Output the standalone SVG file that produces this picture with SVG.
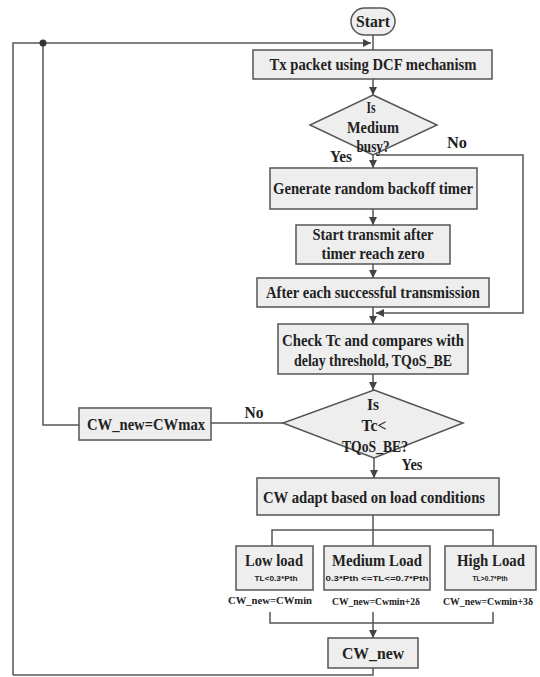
<svg xmlns="http://www.w3.org/2000/svg" width="540" height="677" viewBox="0 0 540 677">
<style>
.box{fill:#eeeeee;stroke:#555;stroke-width:1.5}
.ln{fill:none;stroke:#555;stroke-width:1.5}
.t{font-family:"Liberation Serif","Times New Roman",serif;font-size:16px;font-weight:bold;fill:#222;text-anchor:middle}
.s{font-family:"Liberation Sans",Arial,sans-serif;font-size:8px;font-weight:bold;fill:#222;text-anchor:middle}
.b{font-size:17px}
.l{font-size:11px}
</style>
<defs>
<marker id="ah" markerWidth="8" markerHeight="8" refX="8" refY="4" orient="auto" markerUnits="userSpaceOnUse">
<path d="M0,0 L8,4 L0,8 z" fill="#444"/>
</marker>
</defs>
<rect width="540" height="677" fill="#fff"/>
<g id="connectors">
<path class="ln" d="M13,675 L13,43 L371,43" marker-end="url(#ah)"/>
<path class="ln" d="M79,425 L43,425 L43,43"/>
<circle cx="43" cy="43" r="3.5" fill="#333"/>
<path class="ln" d="M373,35 L373,50"/>
<path class="ln" d="M373,79 L373,95" marker-end="url(#ah)"/>
<path class="ln" d="M373,155 L373,168" marker-end="url(#ah)"/>
<path class="ln" d="M376,155 L523,155 L523,313 L376,313" marker-end="url(#ah)"/>
<path class="ln" d="M373,209 L373,225" marker-end="url(#ah)"/>
<path class="ln" d="M373,264 L373,278" marker-end="url(#ah)"/>
<path class="ln" d="M373,307 L373,324" marker-end="url(#ah)"/>
<path class="ln" d="M373,374 L373,390" marker-end="url(#ah)"/>
<path class="ln" d="M283,423 L211,423"/>
<path class="ln" d="M374,458 L374,478" marker-end="url(#ah)"/>
<path class="ln" d="M373,515 L373,546 M272,546 L272,530 L493,530 L493,546"/>
<path class="ln" d="M270,612 L270,623 L493,623 L493,612"/>
<path class="ln" d="M373,612 L373,638" marker-end="url(#ah)"/>
<path class="ln" d="M373,668 L373,675 L13,675"/>
<text class="t" x="457" y="148" textLength="20" lengthAdjust="spacingAndGlyphs">No</text>
<text class="t" x="341" y="162" textLength="22" lengthAdjust="spacingAndGlyphs">Yes</text>
<text class="t" x="254" y="418" textLength="19" lengthAdjust="spacingAndGlyphs">No</text>
<text class="t" x="412" y="470" textLength="21" lengthAdjust="spacingAndGlyphs">Yes</text>
</g>
<g id="start">
<rect class="box" x="351" y="8" width="44" height="27" rx="13.5"/>
<text class="t" x="373" y="27" textLength="34" lengthAdjust="spacingAndGlyphs">Start</text>
</g>
<g id="tx">
<rect class="box" x="253" y="50" width="239" height="29"/>
<text class="t" x="373" y="70" textLength="207" lengthAdjust="spacingAndGlyphs">Tx packet using DCF mechanism</text>
</g>
<g id="medium">
<polygon class="box" points="373,95 437,125 373,155 310,125"/>
<text class="t" x="371" y="113" textLength="9" lengthAdjust="spacingAndGlyphs">Is</text>
<text class="t" x="373" y="133" textLength="52" lengthAdjust="spacingAndGlyphs">Medium</text>
<text class="t" x="373" y="152" textLength="33" lengthAdjust="spacingAndGlyphs">busy?</text>
</g>
<g id="generate">
<rect class="box" x="270" y="168" width="207" height="41"/>
<text class="t" x="373" y="194" textLength="200" lengthAdjust="spacingAndGlyphs">Generate random backoff timer</text>
</g>
<g id="starttx">
<rect class="box" x="296" y="225" width="154" height="39"/>
<text class="t" x="373" y="240" textLength="121" lengthAdjust="spacingAndGlyphs">Start transmit after</text>
<text class="t" x="373" y="259" textLength="103" lengthAdjust="spacingAndGlyphs">timer reach zero</text>
</g>
<g id="after">
<rect class="box" x="257" y="278" width="232" height="29"/>
<text class="t" x="373" y="298" textLength="214" lengthAdjust="spacingAndGlyphs">After each successful transmission</text>
</g>
<g id="check">
<rect class="box" x="278" y="324" width="190" height="50"/>
<text class="t" x="373" y="346" textLength="182" lengthAdjust="spacingAndGlyphs">Check Tc and compares with</text>
<text class="t" x="373" y="366" textLength="158" lengthAdjust="spacingAndGlyphs">delay threshold, TQoS_BE</text>
</g>
<g id="tc">
<polygon class="box" points="374,390 463,423 374,458 283,423"/>
<text class="t" x="373" y="410" textLength="12" lengthAdjust="spacingAndGlyphs">Is</text>
<text class="t" x="374" y="431" textLength="25" lengthAdjust="spacingAndGlyphs">Tc&lt;</text>
<text class="t" x="375" y="452" textLength="66" lengthAdjust="spacingAndGlyphs">TQoS_BE?</text>
</g>
<g id="cwmax">
<rect class="box" x="79" y="408" width="132" height="32"/>
<text class="t" x="146" y="430" textLength="118" lengthAdjust="spacingAndGlyphs">CW_new=CWmax</text>
</g>
<g id="adapt">
<rect class="box" x="257" y="478" width="242" height="37"/>
<text class="t b" x="374" y="503" textLength="222" lengthAdjust="spacingAndGlyphs">CW adapt based on load conditions</text>
</g>
<g id="low">
<rect class="box" x="236" y="546" width="77" height="44"/>
<text class="t b" x="274" y="566" textLength="58" lengthAdjust="spacingAndGlyphs">Low load</text>
<text class="s" x="276" y="581" textLength="43" lengthAdjust="spacingAndGlyphs">TL&lt;0.3*Pth</text>
<text class="t l" x="270" y="604" textLength="84" lengthAdjust="spacingAndGlyphs">CW_new=CWmin</text>
</g>
<g id="medload">
<rect class="box" x="324" y="546" width="106" height="44"/>
<text class="t b" x="377" y="566" textLength="90" lengthAdjust="spacingAndGlyphs">Medium Load</text>
<text class="s" x="377" y="581" textLength="103" lengthAdjust="spacingAndGlyphs">0.3*Pth &lt;=TL&lt;=0.7*Pth</text>
<text class="t l" x="376" y="605" textLength="88" lengthAdjust="spacingAndGlyphs">CW_new=Cwmin+2δ</text>
</g>
<g id="high">
<rect class="box" x="445" y="546" width="91" height="44"/>
<text class="t b" x="491" y="566" textLength="68" lengthAdjust="spacingAndGlyphs">High Load</text>
<text class="s" x="490" y="581" textLength="35" lengthAdjust="spacingAndGlyphs">TL&gt;0.7*Pth</text>
<text class="t l" x="488" y="605" textLength="90" lengthAdjust="spacingAndGlyphs">CW_new=Cwmin+3δ</text>
</g>
<g id="cwnew">
<rect class="box" x="328" y="638" width="90" height="30"/>
<text class="t b" x="373" y="659" textLength="62" lengthAdjust="spacingAndGlyphs">CW_new</text>
</g>
</svg>
